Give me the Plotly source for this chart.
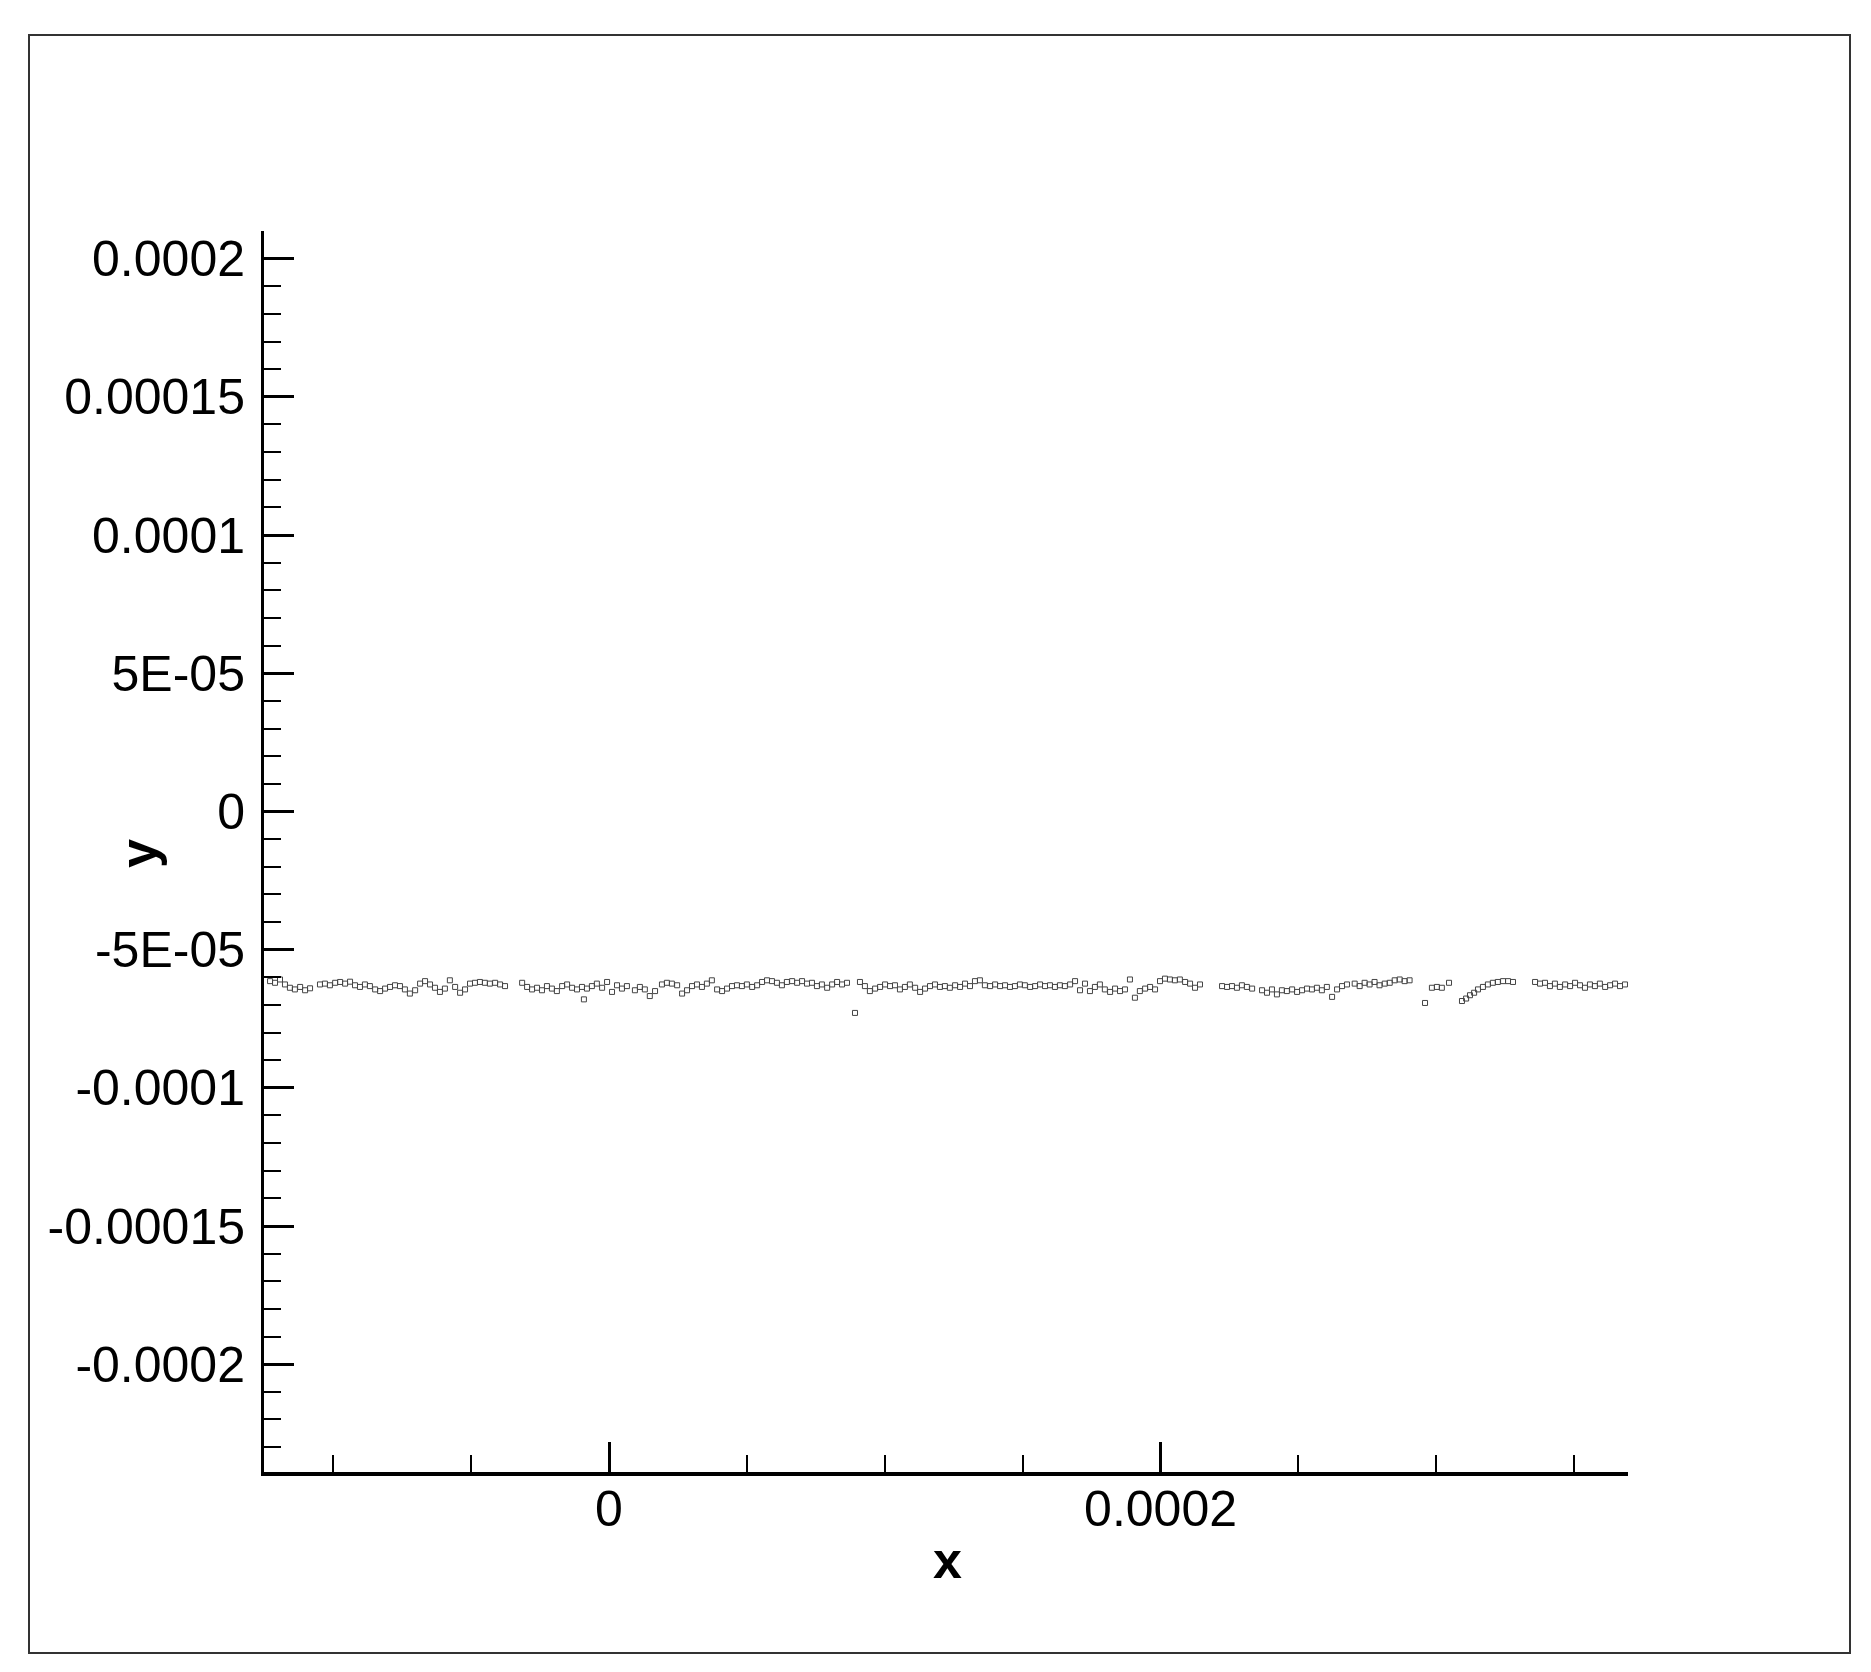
import numpy as np
import plotly.graph_objects as go

# point cloud, coordinates in micrometres (converted to metres below)
x_um = [
    # left run
    -122.9, -121.1, -119.3, -117.5, -115.7, -113.9, -112.0, -110.2, -108.4, -104.8,
    -103.0, -101.2, -99.3, -97.5, -95.7, -93.9, -92.1, -90.3, -88.5, -86.7,
    -84.8, -83.0, -81.2, -79.4, -77.6, -75.8, -74.0, -72.2, -70.3, -68.5,
    -66.7, -64.9, -63.1, -61.3, -59.5, -57.7, -55.8, -54.0, -52.2, -50.4,
    -48.6, -46.8, -45.0, -43.2, -41.3, -39.5, -37.7,
    # second run
    -31.5, -29.7, -27.9, -26.1, -24.3, -22.5, -20.7, -18.9, -17.0, -15.2,
    -13.4, -11.6, -9.8, -9.1, -8.0, -6.2, -4.4, -2.5, -0.7, 1.1,
    2.9, 4.7, 6.5, 9.4, 11.2, 13.0, 14.8, 16.7, 19.2, 21.0,
    22.8, 24.7, 26.5, 28.3, 30.1, 31.9, 33.7, 35.5, 37.3, 39.2,
    41.0, 42.8, 44.6, 46.4, 48.2, 50.0, 51.9, 53.7, 55.5, 57.3,
    59.1, 60.9, 62.7, 64.5, 66.4, 68.2, 70.0, 71.8, 73.6, 75.4,
    77.2, 79.1, 80.9, 82.7, 84.5, 86.3,
    89.2,
    # third run
    91.0, 92.8, 94.6, 96.5, 98.3, 100.1, 101.9, 103.7, 105.5, 107.3,
    109.1, 111.0, 112.8, 114.6, 116.4, 118.2, 120.0, 121.8, 123.6, 125.5,
    127.3, 129.1, 130.9, 132.7, 134.5, 136.3, 138.2, 140.0, 141.8, 143.6,
    145.4, 147.2, 149.0, 150.8, 152.7, 154.5, 156.3, 158.1, 159.9, 161.7,
    163.5, 165.3, 167.2, 169.0, 170.8, 172.6, 174.4, 176.2, 178.0, 179.8,
    181.7, 183.5, 185.3, 187.1, 188.9, 190.7, 192.5, 194.4, 196.2, 198.0,
    199.8, 201.6, 203.4, 205.2, 207.0, 208.9, 210.7, 212.5, 214.3,
    # fourth run
    222.3, 224.1, 225.9, 227.7, 229.5, 231.3, 233.2, 236.8, 238.6, 240.4,
    242.2, 244.0, 245.8, 247.7, 249.5, 251.3, 253.1, 254.9, 256.7, 258.5,
    260.3, 262.2, 264.0, 265.8, 267.6,
    270.4, 272.2, 274.0, 275.8, 277.6, 279.4, 281.3, 283.1, 284.9, 286.7,
    288.5, 290.3,
    295.9,
    298.4, 300.2, 302.0, 304.6,
    309.3, 310.8, 312.2, 313.7, 315.1, 316.9, 318.7, 320.5, 322.3, 324.2,
    326.0, 327.8,
    # right run
    335.8, 337.6, 339.4, 341.2, 343.0, 344.8, 346.7, 348.5, 350.3, 352.1,
    353.9, 355.7, 357.5, 359.3, 361.2, 363.0, 364.8, 366.6, 368.4,
]
y_um = [
    -61.4, -62.0, -60.8, -62.6, -63.8, -64.4, -63.5, -64.7, -64.0, -62.6,
    -62.3, -62.9, -62.0, -61.7, -62.3, -61.6, -62.9, -63.5, -62.6, -63.2,
    -64.4, -65.0, -64.1, -63.5, -62.9, -63.2, -64.4, -65.9, -64.7, -62.3,
    -61.4, -62.6, -63.8, -65.3, -64.1, -61.1, -63.5, -65.6, -64.4, -62.3,
    -62.0, -61.7, -62.0, -62.3, -62.0, -62.6, -63.2,
    -62.0, -63.5, -64.4, -63.8, -64.7, -63.2, -64.1, -65.0, -63.2, -62.6,
    -63.8, -64.4, -63.5, -68.0, -64.1, -63.2, -62.3, -63.8, -61.7, -65.3,
    -62.9, -64.1, -63.2, -64.7, -63.5, -64.4, -66.8, -65.0, -62.6, -62.0,
    -62.3, -62.9, -65.9, -64.7, -63.2, -62.6, -63.5, -62.3, -61.1, -64.4,
    -65.0, -64.1, -63.2, -62.9, -63.2, -62.6, -63.5, -62.9, -61.7, -61.1,
    -61.4, -62.0, -62.9, -61.7, -61.4, -62.0, -61.4, -62.3, -62.0, -63.2,
    -62.6, -63.8, -62.6, -61.7, -62.6, -62.0,
    -72.9,
    -61.7, -63.2, -65.0, -64.1, -63.5, -62.6, -63.2, -62.9, -64.4, -63.5,
    -62.6, -63.8, -65.3, -64.1, -63.2, -62.6, -63.5, -63.2, -63.8, -62.9,
    -63.5, -62.3, -63.2, -61.4, -61.1, -62.9, -63.2, -62.6, -63.2, -62.9,
    -63.5, -63.2, -62.6, -62.9, -63.5, -63.2, -62.6, -63.2, -62.9, -63.5,
    -62.9, -63.2, -62.6, -61.4, -64.7, -62.3, -65.0, -63.5, -62.6, -64.4,
    -65.3, -64.1, -65.0, -64.4, -60.8, -67.4, -65.0, -64.1, -63.5, -64.4,
    -61.4, -60.5, -60.8, -61.1, -60.8, -61.7, -62.3, -63.8, -62.6,
    -63.2, -63.5, -63.2, -63.8, -62.9, -63.5, -64.1, -64.7, -65.6, -64.4,
    -66.2, -64.7, -65.0, -64.4, -65.3, -64.7, -64.1, -64.4, -63.8, -64.7,
    -63.5, -67.1, -64.4, -63.2, -62.6,
    -62.3, -63.2, -62.0, -62.6, -61.7, -62.9, -62.3, -62.0, -61.1, -60.8,
    -61.4, -61.1,
    -69.3,
    -63.8, -63.5, -63.8, -62.0,
    -68.6, -67.7, -66.5, -65.6, -64.4, -63.5, -62.6, -62.0, -61.7, -61.4,
    -61.4, -61.7,
    -61.7, -62.3, -62.0, -63.2, -62.3, -63.5, -62.6, -63.2, -62.0, -62.9,
    -63.8, -62.6, -63.2, -62.3, -63.5, -62.9, -62.3, -63.2, -62.6,
]

y_tickvals = [-0.0002, -0.00015, -0.0001, -0.00005, 0, 0.00005, 0.0001, 0.00015, 0.0002]
y_ticktext = ["-0.0002", "-0.00015", "-0.0001", "-5E-05", "0", "5E-05", "0.0001", "0.00015", "0.0002"]
x_tickvals = [0, 0.0002]
x_ticktext = ["0", "0.0002"]

x = np.array(x_um) * 1e-6
y = np.array(y_um) * 1e-6

W, H = 1871, 1672
OFF = 6  # page body margin (approx)
L, R, T, B = 262, 1626, 229, 1470  # plot area, screen pixels


def px_x(p):
    return (p - L) / (R - L)


def px_y(p):
    return (B - p) / (B - T)


fig = go.Figure()
fig.add_trace(go.Scatter(
    x=x, y=y, mode="markers", showlegend=False,
    marker=dict(symbol="square-open", size=5, color="#444444", line=dict(width=1, color="#444444")),
))

font = "Liberation Sans, Arial, sans-serif"
fig.update_layout(
    width=W - 2 * OFF, height=H - 2 * OFF,
    margin=dict(l=L - OFF, r=W - OFF - R, t=T - OFF, b=H - OFF - B),
    paper_bgcolor="white", plot_bgcolor="white",
    font=dict(family=font, color="black"),
    annotations=[
        dict(text="<b>x</b>", x=px_x(945), y=px_y(1558), xref="paper", yref="paper",
             showarrow=False, font=dict(size=52, family=font), xanchor="center", yanchor="middle"),
        dict(text="<b>y</b>", x=px_x(136), y=px_y(852), xref="paper", yref="paper", textangle=-90,
             showarrow=False, font=dict(size=52, family=font), xanchor="center", yanchor="middle"),
    ],
    shapes=[dict(type="rect", xref="paper", yref="paper",
                 x0=px_x(27), x1=px_x(1848), y0=px_y(1651), y1=px_y(33),
                 line=dict(color="#333333", width=2))],
)
fig.update_xaxes(
    range=[-125.1e-6, 369.5e-6], tickmode="array", tickvals=x_tickvals, ticktext=x_ticktext,
    ticks="inside", ticklen=30, tickwidth=3, tickcolor="black",
    tickfont=dict(size=50, family=font), ticklabelstandoff=-10,
    showline=True, linewidth=4, linecolor="black", showgrid=False, zeroline=False,
    minor=dict(tickmode="linear", tick0=0, dtick=5e-5, ticks="inside", ticklen=17, tickwidth=2, tickcolor="black"),
)
fig.update_yaxes(
    range=[-239e-6, 210e-6], tickmode="array", tickvals=y_tickvals, ticktext=y_ticktext,
    ticks="inside", ticklen=30, tickwidth=3, tickcolor="black",
    tickfont=dict(size=50, family=font), ticklabelstandoff=6,
    showline=True, linewidth=3, linecolor="black", showgrid=False, zeroline=False,
    minor=dict(tickmode="linear", tick0=0, dtick=1e-5, ticks="inside", ticklen=17, tickwidth=2, tickcolor="black"),
)

fig.write_html("out.html")
